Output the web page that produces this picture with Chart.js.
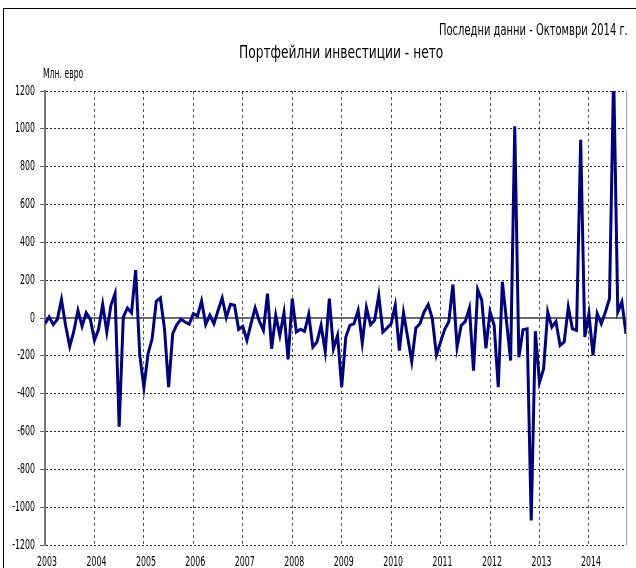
<!DOCTYPE html>
<html>
<head>
<meta charset="utf-8">
<script src="https://cdn.jsdelivr.net/npm/chart.js@4"></script>
<style>
  body { margin: 0; background: #fff; }
  #wrap { position: relative; width: 636px; height: 568px; overflow: hidden; font-family: "DejaVu Sans", sans-serif; }
  #frame { position: absolute; left: 3px; top: 8px; width: 700px; height: 700px; border: 1px solid #000; }
  #chart { position: absolute; left: 0; top: 0; }
  .txt { position: absolute; white-space: nowrap; color: #000; transform-origin: 0 50%; }
  #lastData { left: 439px; top: 22px; font-size: 15px; line-height: 16px; }
  #title { left: 239px; top: 43px; font-size: 18px; line-height: 18px; }
  #unit { left: 43px; top: 65px; font-size: 14px; line-height: 16px; }
</style>
</head>
<body>
<div id="wrap">
  <div id="frame"></div>
  <canvas id="chart" width="636" height="568"></canvas>
  <div class="txt" id="lastData" data-w="189">Последни данни - Октомври 2014 г.</div>
  <div class="txt" id="title" data-w="204">Портфейлни инвестиции - нето</div>
  <div class="txt" id="unit" data-w="40">Млн. евро</div>
</div>
<script>
// Year labels for the x axis (one tick each January)
const years = ['2003', '2004', '2005', '2006', '2007', '2008', '2009', '2010', '2011', '2012', '2013', '2014'];

// Monthly net portfolio investment, mln. EUR
const v2003 = [-30, 5, -35, -7, 97, -40, -150, -70, 40, -44, 27, -7];
const v2004 = [-118, -60, 72, -74, 67, 129, -575, 5, 53, 27, 253, -198];
const v2005 = [-366, -190, -110, 88, 106, -57, -366, -83, -35, -7, -21, -32];
const v2006 = [23, 11, 90, -34, 14, -30, 40, 106, 2, 72, 67, -60];
const v2007 = [-45, -118, -30, 53, -16, -65, 129, -163, 14, -92, 28, -219];
const v2008 = [103, -74, -60, -71, 18, -154, -127, -39, -177, 103, -163, -92];
const v2009 = [-366, -101, -39, -30, 41, -131, 55, -35, -12, 120, -74, -53];
const v2010 = [-30, 67, -172, 27, -100, -230, -53, -30, 32, 71, -4, -195];
const v2011 = [-127, -60, -20, 177, -154, -39, -18, 53, -278, 150, 94, -160];
const v2012 = [32, -39, -366, 191, -17, -225, 1013, -207, -62, -57, -1070, -70];
const v2013 = [-340, -269, 32, -48, -18, -145, -127, 58, -57, -65, 942, -100];
const v2014 = [23, -198, 23, -30, 32, 103, 1300, 32, 85, -83]; // up to October

const values = [].concat(v2003, v2004, v2005, v2006, v2007, v2008,
                         v2009, v2010, v2011, v2012, v2013, v2014);

// The original uses a narrow font, so squeeze the html texts to their widths
document.querySelectorAll('.txt').forEach(el => {
    el.style.transform = 'scaleX(' + (el.dataset.w / el.offsetWidth) + ')';
});

// draw a label squeezed horizontally (narrow font look)
function narrowText(ctx, text, x, y, align, squeeze) {
    const w = ctx.measureText(text).width * squeeze;
    const left = align === 'right' ? x - w : align === 'center' ? x - w / 2 : x;
    ctx.save();
    ctx.translate(left, y);
    ctx.scale(squeeze, 1);
    ctx.textAlign = 'left';
    ctx.textBaseline = 'middle';
    ctx.fillText(text, 0, 0);
    ctx.restore();
}

// Solid zero line, right frame edge and the narrow tick labels
const framePlugin = {
    id: 'framePlugin',
    beforeDatasetsDraw(chart) {
        const { ctx, chartArea, scales } = chart;
        const y0 = scales.y.getPixelForValue(0);
        ctx.save();
        ctx.strokeStyle = '#6a6a6a';
        ctx.lineWidth = 2;
        ctx.beginPath();
        ctx.moveTo(chartArea.left, y0);
        ctx.lineTo(chartArea.right, y0);
        ctx.stroke();
        ctx.strokeStyle = '#999';
        ctx.lineWidth = 1;
        ctx.beginPath();
        ctx.moveTo(chartArea.right + 0.5, chartArea.top);
        ctx.lineTo(chartArea.right + 0.5, chartArea.bottom);
        ctx.stroke();
        ctx.restore();
    },
    afterDraw(chart) {
        const { ctx, scales } = chart;
        ctx.save();
        ctx.fillStyle = '#000';
        ctx.font = '14px "DejaVu Sans"';
        scales.y.ticks.forEach(t => {
            narrowText(ctx, String(t.value), 35, scales.y.getPixelForValue(t.value), 'right', 0.56);
        });
        scales.x.ticks.forEach(t => {
            if (t.value % 12 !== 0) return;
            narrowText(ctx, years[t.value / 12], scales.x.getPixelForValue(t.value) + 2, 562, 'center', 0.56);
        });
        ctx.restore();
    }
};

new Chart(document.getElementById('chart').getContext('2d'), {
    type: 'line',
    data: {
        datasets: [{
            data: values.map((v, i) => ({ x: i, y: v })),
            borderColor: '#000080',
            borderWidth: 3,
            pointRadius: 0,
            tension: 0,
            fill: false
        }]
    },
    options: {
        responsive: false,
        animation: false,
        devicePixelRatio: 1,
        layout: { padding: { left: 0, top: 91, right: 10, bottom: 0 } },
        plugins: { legend: { display: false }, tooltip: { enabled: false } },
        scales: {
            x: {
                type: 'linear',
                min: 0,
                max: values.length - 1,
                afterFit: (scale) => { scale.height = 23; },
                grid: { color: '#555', lineWidth: 1, drawTicks: false },
                border: { display: false, dash: [3, 3] },
                ticks: { display: false, stepSize: 12, includeBounds: false, autoSkip: false }
            },
            y: {
                min: -1200,
                max: 1200,
                afterFit: (scale) => { scale.width = 45; },
                grid: { color: '#222', lineWidth: 1, tickLength: 5, tickColor: '#666', tickBorderDash: [] },
                border: { display: true, color: '#777', width: 2, dash: [2, 2] },
                ticks: { display: false, stepSize: 200 }
            }
        }
    },
    plugins: [framePlugin]
});
</script>
</body>
</html>
